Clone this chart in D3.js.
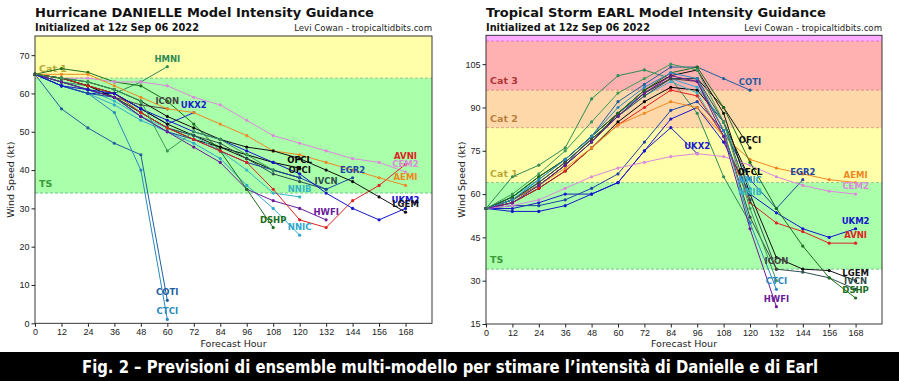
<!DOCTYPE html>
<html lang="it">
<head>
<meta charset="UTF-8">
<script src="https://d3js.org/d3.v7.min.js"></script>
<style>
  body { margin: 0; background: #fff; }
  svg { display: block; font-family: 'DejaVu Sans', sans-serif; }
  .axis text { font-size: 9px; fill: #222; }
  .axis path, .axis line { stroke: #222; }
</style>
</head>
<body>
<svg width="899" height="381"></svg>
<script>
// forecast hours, every 12h
const HOURS = [0, 12, 24, 36, 48, 60, 72, 84, 96, 108, 120, 132, 144, 156, 168];
const X_TICKS = HOURS;

// Hurricane Danielle (kt, starting at hour 0)
const DAN_MODELS = ["HMNI", "COTI", "CTCI", "ICON", "UKX2", "OFCL", "OFCI", "NNIB", "NNIC",
  "IVCN", "EGR2", "HWFI", "DSHP", "CEM2", "AVNI", "AEMI", "UKM2", "LGEM", "HWRF"];
const DAN_VALUES = [
  [65, 63, 62, 60, 63, 67],
  [65, 56, 51, 47, 44, 6],
  [65, 62, 60, 55, 40, 1],
  [65, 63, 61, 59, 57, 56],
  [65, 62, 60, 60, 56, 52, 55],
  [65, 64, 62, 59, 55, 51, 48, 46, 44, 42, 40.5],
  [65, 64, 62, 60, 56, 52, 49, 46, 43, 40, 38],
  [65, 63, 61, 58, 54, 51, 49, 45, 40, 34, 33],
  [65, 62, 60, 57, 53, 50, 47, 43, 36, 30, 23],
  [65, 63, 61, 59, 55, 51, 49, 47, 43, 39, 37, 35],
  [65, 62, 60, 59, 54, 50, 48, 45, 42, 40, 38, 35, 38],
  [65, 63, 61, 59, 54, 50, 46, 42, 35, 32, 30, 27],
  [65, 66.5, 65.5, 63, 62, 58, 52, 45, 35, 25],
  [65, 64, 64, 63, 63, 62, 59, 57, 53, 49, 47, 45, 43, 42, 39.5],
  [65, 64, 62, 60, 55, 51, 48, 45, 42, 35, 27, 25, 32, 36, 41.5],
  [65, 65, 65, 62, 59, 56, 55, 52, 49, 45, 44, 42, 40, 38, 36],
  [65, 62, 61, 60, 56, 53, 50, 48, 45, 42, 39, 34, 30, 27, 30],
  [65, 64, 63, 61, 58, 54, 51, 48, 46, 45, 43, 40, 37, 33, 29],
  [65, 64, 63, 61, 58, 45, 50, 48, 44, 40]
];
const DAN_HIDDEN = ["HWRF"];

// Tropical Storm Earl
const EARL_MODELS = ["HMON", "COTI", "OFCI", "OFCL", "NNIC", "NNIB", "UKX2", "EGR2", "UKM2",
  "AVNI", "AEMI", "CEM2", "LGEM", "IVCN", "DSHP", "ICON", "CTCI", "HWFI", "HWRF"];
const EARL_VALUES = [
  [55, 66, 70, 76, 93, 101, 103, 100, 88, 66, 50],
  [55, 58, 63, 70, 80, 92, 98, 104, 104, 100, 96],
  [55, 58, 63, 70, 78, 88, 95, 100, 100, 90, 76],
  [55, 57, 62, 68, 76, 85, 92, 97, 96, 85, 65],
  [55, 59, 65, 72, 80, 88, 95, 100, 97, 85, 62],
  [55, 58, 64, 71, 79, 87, 94, 99, 95, 80, 58],
  [55, 55, 57, 60, 60, 64, 75, 83, 74],
  [55, 56, 56, 58, 62, 67, 78, 89, 92, 82, 65, 55, 65],
  [55, 54, 54, 56, 60, 64, 75, 86, 90, 78, 60, 53.5, 48, 45, 48],
  [55, 57, 62, 68, 76, 84, 90, 96, 94, 80, 57, 50, 47, 43, 43],
  [55, 58, 63, 69, 76, 84, 88, 92, 90, 80, 72, 69, 67, 65, 64],
  [55, 56, 58, 62, 66, 69, 71, 73, 74, 73, 70, 66, 63, 61, 60],
  [55, 59, 66, 72, 80, 88, 96, 101, 103, 88, 60, 38, 34, 33.5, 30],
  [55, 58, 64, 71, 79, 87, 94, 100, 100, 85, 58, 34, 33, 31, 27],
  [55, 59, 66, 72, 80, 88, 96, 102, 104, 90, 71, 55, 42, 31, 24],
  [55, 58, 64, 71, 79, 87, 95, 100, 99, 82, 52, 34],
  [55, 58, 65, 72, 80, 90, 97, 102, 100, 82, 50, 27],
  [55, 57, 63, 70, 78, 87, 95, 101, 99, 80, 48, 21],
  [55, 60, 67, 75, 85, 95, 100, 105, 103, 85, 55, 30]
];
const EARL_HIDDEN = ["HMON", "HWRF"];

// Saffir-Simpson thresholds
const CAT_LEVELS = [34, 64, 83, 96, 113];
const CAT_NAMES = ["TS", "Cat 1", "Cat 2", "Cat 3", "Cat 4"];

const MODEL_COLOR = {
  HMNI: "#2e8b57", HMON: "#2e8b57", COTI: "#1f5f9f", CTCI: "#2a88c0", ICON: "#444444",
  UKX2: "#1a1acc", OFCL: "#000000", OFCI: "#111111", NNIB: "#35b5c5", NNIC: "#30a8d0",
  IVCN: "#2f4f4f", EGR2: "#1f45a5", HWFI: "#6a1b9a", DSHP: "#1b6e1b", AVNI: "#dd2222",
  CEM2: "#dd88dd", AEMI: "#ee8822", UKM2: "#1515cc", LGEM: "#111111", HWRF: "#3a9a5a"
};
const BAND_FILL = ["#aaffaa", "#ffffaa", "#ffd8aa", "#ffb0b0", "#ffaaff"];
const BAND_LINE = ["#55bb77", "#77bb77", "#cc9966", "#cc8866", "#cc66cc"];
const BAND_TEXT = ["#3a9a3a", "#b8a838", "#b8803c", "#b03434", "#aa33aa"];

const svg = d3.select("svg");

function drawChart(cfg) {
  const g = svg.append("g");
  const x = d3.scaleLinear().domain([0, 180]).range([cfg.left, cfg.right]);
  const y = d3.scaleLinear().domain(cfg.yDomain).range([cfg.bottom, cfg.top]);

  // intensity bands
  CAT_LEVELS.forEach((lv, i) => {
    const lo = lv, hi = i + 1 < CAT_LEVELS.length ? CAT_LEVELS[i + 1] : 200;
    if (lo >= cfg.yDomain[1]) return;
    const yTop = y(Math.min(hi, cfg.yDomain[1]));
    g.append("rect")
      .attr("x", cfg.left).attr("width", cfg.right - cfg.left)
      .attr("y", yTop).attr("height", y(lo) - yTop)
      .attr("fill", BAND_FILL[i]);
  });
  CAT_LEVELS.forEach((lv, i) => {
    if (lv >= cfg.yDomain[1]) return;
    g.append("line")
      .attr("x1", cfg.left).attr("x2", cfg.right)
      .attr("y1", y(lv)).attr("y2", y(lv))
      .attr("stroke", BAND_LINE[i]).attr("stroke-width", 0.8)
      .attr("stroke-dasharray", "3,2");
    if (cfg.bandLabels.includes(CAT_NAMES[i])) {
      g.append("text")
        .attr("x", cfg.left + 4).attr("y", y(lv) - 6)
        .attr("fill", BAND_TEXT[i]).attr("font-size", 9.5).attr("font-weight", "bold")
        .text(CAT_NAMES[i]);
    }
  });

  // model tracks
  const line = d3.line().x((d, i) => x(HOURS[i])).y(d => y(d));
  cfg.models.forEach((m, k) => {
    const vals = cfg.values[k];
    const col = MODEL_COLOR[m];
    g.append("path").datum(vals)
      .attr("d", line).attr("fill", "none")
      .attr("stroke", col).attr("stroke-width", 1);
    g.selectAll(null).data(vals).enter().append("circle")
      .attr("cx", (d, i) => x(HOURS[i])).attr("cy", d => y(d))
      .attr("r", 1.6).attr("fill", col);
  });
  cfg.models.forEach((m, k) => {
    if (cfg.hidden.includes(m)) return;
    const vals = cfg.values[k];
    const n = vals.length - 1;
    g.append("text")
      .attr("x", x(HOURS[n])).attr("y", y(vals[n]) - 5)
      .attr("text-anchor", "middle")
      .attr("font-size", 8.5).attr("font-weight", "bold")
      .attr("fill", MODEL_COLOR[m])
      .text(m);
  });

  // frame and axes
  g.append("rect")
    .attr("x", cfg.left).attr("y", cfg.top)
    .attr("width", cfg.right - cfg.left).attr("height", cfg.bottom - cfg.top)
    .attr("fill", "none").attr("stroke", "#222").attr("stroke-width", 0.9);
  g.append("g").attr("class", "axis")
    .attr("transform", `translate(0,${cfg.bottom})`)
    .call(d3.axisBottom(x).tickValues(X_TICKS).tickSize(3.5).tickPadding(2))
    .call(a => a.select(".domain").remove());
  g.append("g").attr("class", "axis")
    .attr("transform", `translate(${cfg.left},0)`)
    .call(d3.axisLeft(y).tickValues(cfg.yTicks).tickSize(3.5).tickPadding(2))
    .call(a => a.select(".domain").remove());

  // titles
  g.append("text").attr("x", cfg.left).attr("y", 17)
    .attr("font-size", 13).attr("font-weight", "bold").attr("fill", "#111")
    .text(cfg.title);
  g.append("text").attr("x", cfg.left).attr("y", 31)
    .attr("font-size", 9.8).attr("font-weight", "bold").attr("fill", "#111")
    .text("Initialized at 12z Sep 06 2022");
  g.append("text").attr("x", cfg.right).attr("y", 31)
    .attr("text-anchor", "end").attr("font-size", 8.6).attr("fill", "#222")
    .text("Levi Cowan - tropicaltidbits.com");
  g.append("text")
    .attr("x", (cfg.left + cfg.right) / 2).attr("y", 347)
    .attr("text-anchor", "middle").attr("font-size", 9.5).attr("fill", "#222")
    .text("Forecast Hour");
  g.append("text")
    .attr("transform", `translate(${cfg.left - 21},${(cfg.top + cfg.bottom) / 2}) rotate(-90)`)
    .attr("text-anchor", "middle").attr("font-size", 9.5).attr("fill", "#222")
    .text("Wind Speed (kt)");
}

drawChart({
  title: "Hurricane DANIELLE Model Intensity Guidance",
  left: 35, right: 432, top: 36, bottom: 323.3,
  yDomain: [0, 75], yTicks: [0, 10, 20, 30, 40, 50, 60, 70],
  models: DAN_MODELS, values: DAN_VALUES, hidden: DAN_HIDDEN,
  bandLabels: ["TS", "Cat 1"]
});

drawChart({
  title: "Tropical Storm EARL Model Intensity Guidance",
  left: 486, right: 882, top: 35.3, bottom: 324,
  yDomain: [15, 115], yTicks: [15, 30, 45, 60, 75, 90, 105],
  models: EARL_MODELS, values: EARL_VALUES, hidden: EARL_HIDDEN,
  bandLabels: ["TS", "Cat 1", "Cat 2", "Cat 3"]
});

// caption bar
svg.append("rect").attr("x", 0).attr("y", 352).attr("width", 899).attr("height", 29).attr("fill", "#000");
svg.append("text")
  .attr("x", 450).attr("y", 373)
  .attr("text-anchor", "middle")
  .attr("font-family", "'DejaVu Sans Condensed', 'DejaVu Sans', sans-serif")
  .attr("font-size", 18).attr("font-weight", "bold").attr("fill", "#fff")
  .attr("textLength", 736).attr("lengthAdjust", "spacingAndGlyphs")
  .text("Fig. 2 – Previsioni di ensemble multi-modello per stimare l’intensità di Danielle e di Earl");
</script>
</body>
</html>
